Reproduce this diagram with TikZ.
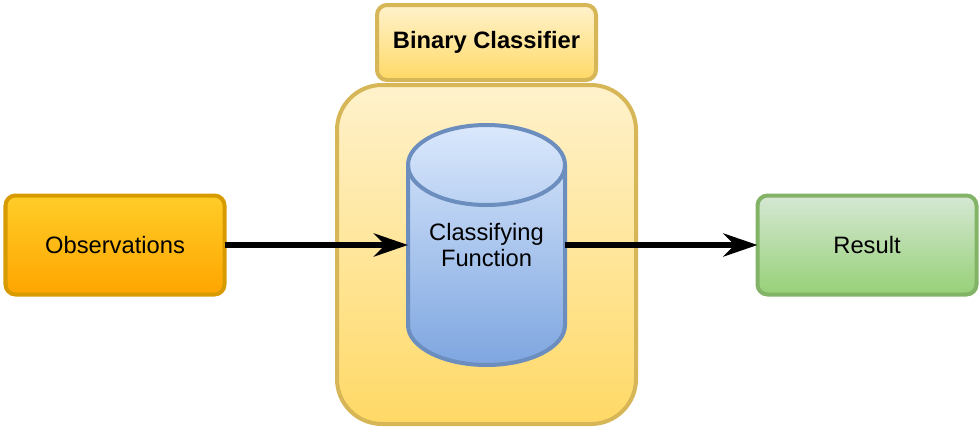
\documentclass[tikz,border=0pt]{standalone}
\usepackage{fontspec}
\setmainfont{Liberation Sans}
\usepackage{tikz}
\usetikzlibrary{calc}
\usetikzlibrary{positioning}
\usetikzlibrary{arrows.meta}
\definecolor{orangeTop}{HTML}{FFCD28}
\definecolor{orangeBot}{HTML}{FFA500}
\definecolor{orangeLine}{HTML}{D79B00}
\definecolor{yellowTop}{HTML}{FFF2CC}
\definecolor{yellowBot}{HTML}{FFD966}
\definecolor{yellowLine}{HTML}{D6B656}
\definecolor{blueTop}{HTML}{DAE8FC}
\definecolor{blueBot}{HTML}{7EA6E0}
\definecolor{blueLine}{HTML}{6C8EBF}
\definecolor{greenTop}{HTML}{D5E8D4}
\definecolor{greenBot}{HTML}{97D077}
\definecolor{greenLine}{HTML}{82B366}

\begin{document}
\begin{tikzpicture}
\tikzstyle{box}=[rectangle,align=center,draw,line width=0.08cm,rounded corners=0.2cm,outer sep=0pt,minimum width=4.38cm,minimum height=1.98cm,font=\fontsize{13.5}{14.8}\selectfont]
\tikzstyle{flow}=[line width=0.12cm,-{Stealth[length=0.68cm,width=0.46cm,inset=0.22cm]}]
\useasboundingbox (0,0) rectangle (19.6,-8.6);
\node[box,draw=yellowLine,top color=yellowTop,bottom color=yellowBot,rounded corners=0.9cm,minimum width=5.98cm,minimum height=6.78cm] at(9.73, -5.09) (clf) {};
\node[box,draw=yellowLine,top color=yellowTop,bottom color=yellowBot,minimum height=1.5cm,font=\fontsize{13.5}{14.8}\selectfont\bfseries] at(9.73, -0.85) (title) {Binary Classifier};
\draw[line width=0.08cm,draw=blueLine,top color=blueTop,bottom color=blueBot] (8.16,-3.30)
      arc[start angle=180,end angle=0,x radius=1.57cm,y radius=0.8cm] -- (11.30,-6.50)
      arc[start angle=0,end angle=-180,x radius=1.57cm,y radius=0.8cm] -- cycle;
\draw[line width=0.08cm,blueLine] (8.16,-3.30) arc[start angle=180,end angle=360,x radius=1.57cm,y radius=0.8cm];
\node[align=center,minimum width=3.14cm,minimum height=4.8cm,outer sep=0pt,font=\fontsize{13.5}{14.8}\selectfont] at(9.73, -4.90) (func) {Classifying\\Function};
\node[box,draw=orangeLine,top color=orangeTop,bottom color=orangeBot] at(2.30, -4.90) (obs) {Observations};
\node[box,draw=greenLine,top color=greenTop,bottom color=greenBot] at(17.34, -4.90) (res) {Result};
\draw[flow] (obs) -- (func);
\draw[flow] (func) -- (res);
\end{tikzpicture}
\end{document}
